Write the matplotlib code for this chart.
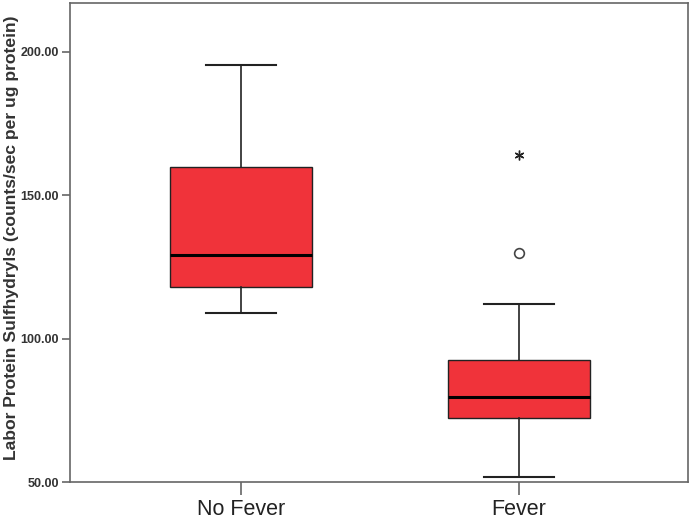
import matplotlib
matplotlib.use('Agg')
from matplotlib import pyplot as plt

plt.rcParams['font.family'] = ['Liberation Sans', 'DejaVu Sans']

groups = ['No Fever', 'Fever']
whislo = [109.1, 51.9]
q1 = [118.1, 72.3]
med = [129.0, 79.6]
q3 = [159.7, 92.6]
whishi = [195.3, 112.1]
outliers = [[], [129.8]]
extremes = [[], [164.1]]

stats = []
for i in range(len(groups)):
    stats.append(dict(label=groups[i], whislo=whislo[i], q1=q1[i], med=med[i],
                      q3=q3[i], whishi=whishi[i], fliers=outliers[i]))

fig = plt.figure(figsize=(6.91, 5.2), dpi=100)
ax = fig.add_axes([0.101, 0.073, 0.8947, 0.921])

ax.bxp(stats, positions=[1, 2], widths=0.51, capwidths=0.25, patch_artist=True,
       boxprops=dict(facecolor='#f0333a', edgecolor='#222222', linewidth=1.0),
       medianprops=dict(color='black', linewidth=2.2),
       whiskerprops=dict(color='#222222', linewidth=1.2),
       capprops=dict(color='#222222', linewidth=1.5),
       flierprops=dict(marker='o', markerfacecolor='white', markeredgecolor='#444444',
                       markersize=7, markeredgewidth=1.2))

for i in range(len(groups)):
    for v in extremes[i]:
        ax.plot(i + 1, v, marker=(6, 2, 0), color='#222222', markersize=7, markeredgewidth=1.0)

ax.set_xlim(0.385, 2.608)
ax.set_ylim(50, 217)
ax.set_yticks([50, 100, 150, 200])
ax.set_yticklabels(['%.2f' % t for t in [50, 100, 150, 200]], fontsize=9, fontweight='bold', color='#333333')
ax.set_xticks([1, 2])
ax.set_xticklabels(groups, fontsize=15.5, color='#222222')
ax.set_ylabel('Labor Protein Sulfhydryls (counts/sec per ug protein)', fontsize=12.6,
              fontweight='bold', color='#333333')
ax.yaxis.set_label_coords(-0.082, 0.51)

for s in ax.spines.values():
    s.set_color('#666666')
    s.set_linewidth(1.2)
ax.tick_params(axis='y', direction='out', length=6, color='#666666', width=1.2, pad=2)
ax.tick_params(axis='x', direction='out', length=9, color='#666666', width=1.2, pad=3)

fig.savefig('out.png', dpi=100)
